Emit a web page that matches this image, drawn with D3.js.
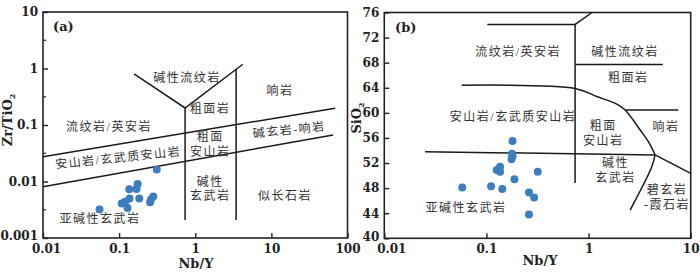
<!DOCTYPE html>
<html><head><meta charset="utf-8">
<script src="https://cdn.jsdelivr.net/npm/d3@7"></script>
<style>
html,body{margin:0;padding:0;background:#fff;}
svg{display:block;}
.tick text{font-family:"DejaVu Serif",serif;font-weight:bold;font-size:12px;fill:#222;}
.cn{font-family:"Liberation Serif","Noto Sans CJK SC",serif;font-size:12px;fill:#333;letter-spacing:1.5px;}
.ttl{font-family:"DejaVu Serif",serif;font-weight:bold;font-size:13px;fill:#222;}
</style>
</head><body>
<svg id="c" width="700" height="274"></svg>
<script>
// ---------- data ----------
const ticksA_x = [0.01, 0.1, 1, 10, 100];
const tickLabelsA_x = ["0.01", "0.1", "1", "10", "100"];
const ticksA_y = [0.001, 0.01, 0.1, 1, 10];
const tickLabelsA_y = ["0.001", "0.01", "0.1", "1", "10"];
const minorA_y = [0.00316, 0.0316, 0.316, 3.16];
const ticksB_x = [0.01, 0.1, 1, 10];
const tickLabelsB_x = ["0.01", "0.1", "1", "10"];
const ticksB_y = [40, 44, 48, 52, 56, 60, 64, 68, 72, 76];

// samples, panel (a): Nb/Y vs Zr/TiO2
const samplesA_NbY  = [0.312, 0.175, 0.169, 0.136, 0.137, 0.120, 0.108, 0.184, 0.129, 0.0553, 0.281, 0.262, 0.255];
const samplesA_ZrTi = [0.0163, 0.0090, 0.0074, 0.0073, 0.0050, 0.0044, 0.0041, 0.0050, 0.0034, 0.0032, 0.0054, 0.0048, 0.0043];
// samples, panel (b): Nb/Y vs SiO2
const samplesB_NbY  = [0.180, 0.178, 0.180, 0.176, 0.136, 0.126, 0.136, 0.318, 0.188, 0.058, 0.111, 0.143, 0.261, 0.293, 0.261];
const samplesB_SiO2 = [55.5, 53.5, 53.1, 52.6, 51.4, 50.9, 50.6, 50.6, 49.4, 48.1, 48.3, 47.85, 47.3, 46.5, 43.8];

// field boundaries, panel (a)
const bndA_upper = [[0.01, 0.0275], [68.7, 0.198]];
const bndA_lower = [[0.01, 0.0081], [64.7, 0.0665]];
const bndA_V = [[0.157, 0.80], [0.735, 0.20], [4.21, 1.19]];
const bndA_vert1 = [[0.735, 0.20], [0.735, 0.00208]];
const bndA_vert2 = [[3.44, 0.97], [3.44, 0.00208]];
// field boundaries, panel (b)
const bndB_top = [[0.102, 74.1], [0.738, 74.1], [1.08, 76]];
const bndB_vert = [[0.738, 74.1], [0.738, 48.8]];
const bndB_h68 = [[0.74, 67.7], [5.33, 67.7]];
const bndB_curve = [[0.0573, 64.4], [0.738, 63.9], [1.20, 62.6], [1.89, 61.4], [2.28, 60.45], [3.19, 57.3], [3.85, 55.4], [4.48, 53.3]];
const bndB_h60 = [[2.28, 60.45], [7.57, 60.45]];
const bndB_h53 = [[0.0251, 53.8], [4.48, 53.3]];
const bndB_right = [[4.48, 53.3], [10, 50.35]];
const bndB_lowcurve = [[4.48, 53.3], [4.16, 51.4], [2.55, 44.5]];

// field names (multi-line names are split with "|")
const fieldsA = [
  ["碱性流纹岩", 0.78, 0.68, 0], ["响岩", 13, 0.40, 0], ["粗面岩", 1.56, 0.192, 0],
  ["流纹岩/英安岩", 0.0736, 0.0922, 0], ["碱玄岩-响岩", 17.1, 0.0817, -6],
  ["粗面|安山岩", 1.57, 0.0613, 0],
  ["安山岩/玄武质安山岩", 0.097, 0.0261, -6],
  ["碱性|玄武岩", 1.58, 0.0098, 0],
  ["似长石岩", 15.1, 0.00553, 0], ["亚碱性玄武岩", 0.0561, 0.00217, 0]
];
const fieldsB = [
  ["流纹岩/英安岩", 0.204, 69.7], ["碱性流纹岩", 2.28, 69.7], ["粗面岩", 2.44, 65.5],
  ["安山岩/玄武质安山岩", 0.182, 59.3], ["粗面|安山岩", 1.39, 57.9],
  ["响岩", 5.74, 57.7], ["碱性|玄武岩", 1.84, 52.0],
  ["碧玄岩|-霞石岩", 5.87, 47.7], ["亚碱性玄武岩", 0.063, 44.8]
];
const lineGap = 14.5;

// ---------- drawing ----------
const svg = d3.select("#c");
const dotColor = "#3e7ebf";

function panel(g, xs, ys, opts) {
  const [x0, x1] = xs.range(); const [yb, yt] = ys.range();
  g.append("rect").attr("x", x0).attr("y", yt).attr("width", x1 - x0).attr("height", yb - yt)
    .attr("fill", "none").attr("stroke", "#222").attr("stroke-width", 1.6);
  const ax = g.append("g").attr("transform", `translate(0,${yb})`)
    .call(d3.axisBottom(xs).tickValues(opts.xt).tickFormat((d, i) => opts.xl[i]).tickSizeInner(-5).tickSizeOuter(0).tickPadding(6));
  const ay = g.append("g").attr("transform", `translate(${x0},0)`)
    .call(d3.axisLeft(ys).tickValues(opts.yt).tickFormat((d, i) => opts.yl[i]).tickSizeInner(-5).tickSizeOuter(0).tickPadding(5));
  [ax, ay].forEach(a => { a.select(".domain").remove(); a.selectAll("line").attr("stroke", "#222").attr("stroke-width", 1.4); });
  // first x label sits a little to the right, lowest y label a little higher (as in the original)
  ax.selectAll(".tick text").filter((d, i) => i === 0).attr("dx", opts.firstDx);
  ay.selectAll(".tick text").filter((d, i) => i === 0).attr("dy", "0.32em").attr("y", -2);
  if (opts.minor) {
    g.selectAll(".mn").data(opts.minor).enter().append("line")
      .attr("x1", x0).attr("x2", x0 + 3).attr("y1", d => ys(d)).attr("y2", d => ys(d))
      .attr("stroke", "#222").attr("stroke-width", 1.2);
  }
}

function drawLines(g, xs, ys, arr, curve) {
  const line = d3.line().x(d => xs(d[0])).y(d => ys(d[1])).curve(curve || d3.curveLinear);
  arr.forEach(a => g.append("path").attr("d", line(a)).attr("fill", "none")
    .attr("stroke", "#1a1a1a").attr("stroke-width", 1.5));
}

function fieldLabels(g, xs, ys, data) {
  const t = g.selectAll(".f").data(data).enter().append("text").attr("class", "cn")
    .attr("text-anchor", "middle").attr("dominant-baseline", "central")
    .attr("transform", d => `translate(${xs(d[1])},${ys(d[2])}) rotate(${d[3] || 0})`);
  t.each(function (d) {
    const parts = d[0].split("|");
    const s = d3.select(this);
    parts.forEach((p, i) => s.append("tspan").attr("x", 0).attr("y", i * lineGap).text(p));
  });
}

// panel (a)
const xA = d3.scaleLog().domain([0.01, 100]).range([43, 347.5]);
const yA = d3.scaleLog().domain([0.001, 10]).range([238, 12]);
const gA = svg.append("g");
drawLines(gA, xA, yA, [bndA_upper, bndA_lower, bndA_V, bndA_vert1, bndA_vert2]);
panel(gA, xA, yA, {xt: ticksA_x, xl: tickLabelsA_x, yt: ticksA_y, yl: tickLabelsA_y, minor: minorA_y, firstDx: 3});
fieldLabels(gA, xA, yA, fieldsA);
gA.selectAll(".p").data(samplesA_NbY).enter().append("circle")
  .attr("cx", d => xA(d)).attr("cy", (d, i) => yA(samplesA_ZrTi[i])).attr("r", 4).attr("fill", dotColor);
gA.append("text").attr("class", "ttl").attr("x", 53).attr("y", 31).text("(a)");
gA.append("text").attr("class", "ttl").attr("text-anchor", "middle").attr("x", 196).attr("y", 268).text("Nb/Y");
gA.append("text").attr("class", "ttl").attr("text-anchor", "middle")
  .attr("transform", "translate(12,120) rotate(-90)")
  .html('Zr/TiO<tspan font-size="8" dy="3">2</tspan>');

// panel (b)
const xB = d3.scaleLog().domain([0.01, 10]).range([384.3, 690.7]);
const yB = d3.scaleLinear().domain([40, 76]).range([238.3, 12.5]);
const gB = svg.append("g");
drawLines(gB, xB, yB, [bndB_top, bndB_vert, bndB_h68, bndB_h60, bndB_h53, bndB_right]);
drawLines(gB, xB, yB, [bndB_curve, bndB_lowcurve], d3.curveCatmullRom);
panel(gB, xB, yB, {xt: ticksB_x, xl: tickLabelsB_x, yt: ticksB_y, yl: ticksB_y.map(String), firstDx: 7});
fieldLabels(gB, xB, yB, fieldsB);
gB.selectAll(".p").data(samplesB_NbY).enter().append("circle")
  .attr("cx", d => xB(d)).attr("cy", (d, i) => yB(samplesB_SiO2[i])).attr("r", 4).attr("fill", dotColor);
gB.append("text").attr("class", "ttl").attr("x", 395).attr("y", 32).text("(b)");
gB.append("text").attr("class", "ttl").attr("text-anchor", "middle").attr("x", 540).attr("y", 265).text("Nb/Y");
gB.append("text").attr("class", "ttl").attr("text-anchor", "middle")
  .attr("transform", "translate(361,118) rotate(-90)")
  .html('SiO<tspan font-size="8" dy="3">2</tspan>');
</script>
</body></html>
